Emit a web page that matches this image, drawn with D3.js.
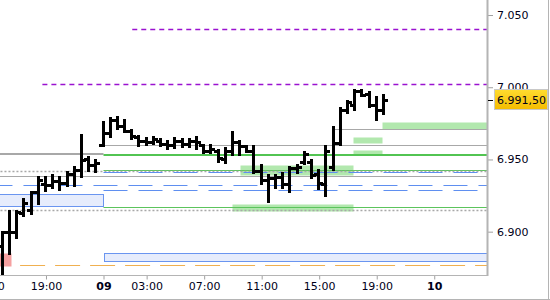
<html lang="en">
<head>
<meta charset="utf-8">
<title>Bar chart with levels</title>
<script src="https://cdn.jsdelivr.net/npm/d3@7"></script>
<style>
  body { margin: 0; background: #fff; }
  svg text { font-family: "DejaVu Sans", Verdana, sans-serif; font-size: 11px; fill: #000018; }
</style>
</head>
<body>
<script>
// bar times, hours counted per session (day 08 ends 23:00, day 09 starts at 0)
var barDays = [8,8,8,8,8,8,8,8,8,8,8,8,8,8,
  9,9,9,9,9,9,9,9,9,9,9,9,9,9,9,9,9,9,9,9,9,9,9,9,9,9,9,9,9,9,9,9,9,9,9,9,9,9,9,9];
var barTimes = ["16:00","16:30","17:00","17:30","18:00","18:30","19:00","19:30","20:00","20:30","21:00","21:30","22:00","22:30",
  "00:00","00:30","01:00","01:30","02:00","02:30","03:00","03:30","04:00","04:30","05:00","05:30","06:00","06:30",
  "07:00","07:30","08:00","08:30","09:00","09:30","10:00","10:30","11:00","11:30","12:00","12:30","13:00","13:30",
  "14:00","14:30","15:00","15:30","16:00","16:30","17:00","17:30","18:00","18:30","19:00","19:30"];
var opens  = [6890,6899.5,6900,6913,6915,6927.5,6933,6932,6935,6934,6940,6943,6950,6946,
  6960,6968,6977,6973.5,6970,6965.5,6963,6962,6963,6961,6960,6963,6961,6963,
  6960,6956,6956,6950,6956,6962,6959,6956,6942,6936,6937,6938,6933,6944,
  6948,6948,6940,6933,6945,6961.5,6984,6988,6997.5,6995,6988,6984.5];
var highs  = [6900,6914,6914,6922.5,6927.5,6938,6938,6939,6938,6941.5,6945,6967,6952,6949.5,
  6976,6978.5,6979.5,6977,6970.5,6966,6965,6965.5,6964,6963,6965,6964.5,6964.5,6965.5,
  6960,6960,6956.5,6958,6969,6962.5,6959,6959,6946,6939,6939,6940.5,6945,6946,
  6955.5,6949.5,6942.5,6959,6972.5,6985.5,6990.5,6998,6998,6997,6993.5,6994.5];
var lows   = [6871,6884.5,6895.5,6910.5,6912.5,6919.5,6928,6930,6929,6931.5,6932,6938,6942.5,6941.5,
  6959.5,6965.5,6971,6969,6964,6959,6960,6960.5,6959,6957.5,6958,6959,6959,6957.5,
  6954.5,6954.5,6948.5,6947.5,6953,6953,6954.5,6940.5,6932.5,6920.5,6930,6930,6927.5,6940.5,
  6947.5,6937,6929,6924.5,6942.5,6960,6982,6984,6993.5,6986.5,6977.5,6981];
var closes = [6899.5,6900,6913.5,6920,6927.5,6936,6932,6935,6934,6940,6943,6949.5,6946,6947.5,
  6968,6977,6973.5,6970,6966,6963,6962,6964,6961,6960,6963,6961,6963,6962,
  6956,6957,6951,6956,6962,6959,6956,6942,6936,6937,6938,6933,6944,6945,
  6954,6939,6934,6956,6961.5,6984.5,6989.5,6997.5,6994.5,6988,6984.5,6991.5];
var lastPrice = 6991.5;

// horizontal levels (price, from / to in session hours)
var levelPrices = [7040, 7002, 6971, 6960, 6953.5, 6953, 6943, 6942, 6941, 6938.5, 6932, 6929, 6917, 6915, 6877];
var levelFrom   = [2, -4.25, 15.9, 0, -8, 0, 0, -8, 0, -8, -8, 0, 0, -8, -5.8];
var levelTo     = [28, 28, 28, 28, 0, 28, 28, 28, 28, 28, 28, 28, 28, 28, 28];
var levelKinds  = ["purple","purple","gray","gray","grayThick","greenThick","green","grayDot","blue","gray","blue","blue","green","grayDot","orange"];

// zones (top, bottom, from, to)
var zoneTops    = [6976, 6965.5, 6956.5, 6946, 6919.5, 6926, 6885.5, 6885];
var zoneBottoms = [6971, 6961.5, 6953, 6939, 6914.5, 6917.5, 6880, 6876];
var zoneFrom    = [19.35, 17.35, 17.35, 9.49, 8.94, -8, 0, -8];
var zoneTo      = [28, 19.35, 19.35, 17.35, 17.35, 0, 28, -6.4];
var zoneKinds   = ["green","green","green","green","green","blue","blue","red"];

var xTickHours  = [-8, -4, 0, 3, 7, 11, 15, 19, 23];
var xTickLabels = ["15:00","19:00","09","03:00","07:00","11:00","15:00","19:00","10"];
var yTicks = [6900, 6950, 7000, 7050];

var lineStyles = {
  purple:     {stroke: "#9a12d0", width: 1.3, dash: "5,4"},
  gray:       {stroke: "#a8a8a8", width: 1.2, dash: null},
  grayThick:  {stroke: "#a8a8a8", width: 2.2, dash: null},
  grayDot:    {stroke: "#a8a8a8", width: 1.5, dash: "2,2"},
  green:      {stroke: "#5cc45c", width: 1.2, dash: null},
  greenThick: {stroke: "#52c452", width: 2.2, dash: null},
  blue:       {stroke: "#5f8ff0", width: 1.2, dash: "24,11"},
  orange:     {stroke: "#f0b050", width: 1.2, dash: "25,10"}
};
var zoneStyles = {
  green: {fill: "#b2e8ae", stroke: "none"},
  blue:  {fill: "#e6ecfc", stroke: "#6a95f0"},
  red:   {fill: "#f5a0a0", stroke: "none"}
};

var w = 550, h = 300;
var plotW = 487, plotH = 275;

var locale = d3.formatLocale({decimal: ",", thousands: ".", grouping: [3], currency: ["", ""]});
var fmtAxis = locale.format(",.0f");
var fmtLast = locale.format(",.2f");

function sessionHour(i) {
  var p = barTimes[i].split(":");
  return (barDays[i] - 9) * 23 + (+p[0]) + (+p[1]) / 60;
}

var xScale = d3.scaleLinear().domain([0, 15]).range([103.5, 319.2]);
var yScale = d3.scaleLinear().domain([6870, 7060.4]).range([plotH, 0]);

var svg = d3.select("body").append("svg")
  .attr("width", w)
  .attr("height", h);

svg.append("defs").append("clipPath").attr("id", "plot")
  .append("rect").attr("x", 0).attr("y", 0).attr("width", plotW).attr("height", plotH);

var plot = svg.append("g").attr("clip-path", "url(#plot)");

// zones
zoneTops.forEach(function(t, i) {
  var st = zoneStyles[zoneKinds[i]];
  var x0 = xScale(zoneFrom[i]), x1 = xScale(zoneTo[i]);
  plot.append("rect")
    .attr("x", Math.round(x0) + 0.5)
    .attr("y", Math.round(yScale(t)) + 0.5)
    .attr("width", Math.round(x1 - x0))
    .attr("height", Math.round(yScale(zoneBottoms[i]) - yScale(t)))
    .attr("fill", st.fill)
    .attr("stroke", st.stroke)
    .attr("stroke-width", 1);
});

// level lines
levelPrices.forEach(function(p, i) {
  var st = lineStyles[levelKinds[i]];
  var y = Math.round(yScale(p)) + (st.width > 2 ? 0 : 0.5);
  plot.append("line")
    .attr("x1", xScale(levelFrom[i])).attr("x2", xScale(levelTo[i]))
    .attr("y1", y).attr("y2", y)
    .attr("stroke", st.stroke)
    .attr("stroke-width", st.width)
    .attr("stroke-dasharray", st.dash);
});

// OHLC bars
var bars = plot.selectAll("g.bar")
  .data(d3.range(barTimes.length))
  .enter().append("g").attr("class", "bar");

bars.append("rect")
  .attr("x", function(i) { return Math.round(xScale(sessionHour(i))) - 2; })
  .attr("y", function(i) { return Math.round(yScale(highs[i])) - 1; })
  .attr("width", 3)
  .attr("height", function(i) { return Math.max(3, Math.round(yScale(lows[i]) - yScale(highs[i])) + 2); })
  .attr("fill", "#000");
bars.append("rect")
  .attr("x", function(i) { return Math.round(xScale(sessionHour(i))) - 5; })
  .attr("y", function(i) { return Math.round(yScale(opens[i])) - 1; })
  .attr("width", 3).attr("height", 3)
  .attr("fill", "#000");
bars.append("rect")
  .attr("x", function(i) { return Math.round(xScale(sessionHour(i))) + 1; })
  .attr("y", function(i) { return Math.round(yScale(closes[i])) - 1; })
  .attr("width", 3).attr("height", 3)
  .attr("fill", "#000");

// right axis
var yAxis = d3.axisRight(yScale).tickValues(yTicks).tickFormat(fmtAxis).tickSize(5).tickPadding(4);
var gY = svg.append("g")
  .attr("transform", "translate(" + (plotW + 1) + ",0)")
  .call(yAxis);
gY.select(".domain").remove();
gY.selectAll("line").attr("stroke", "#a0a0a0");
gY.selectAll("text").attr("font-family", null).attr("font-size", null);
svg.append("line")
  .attr("x1", plotW + 0.5).attr("x2", plotW + 0.5).attr("y1", 0).attr("y2", plotH + 1)
  .attr("stroke", "#b4b4b4").attr("stroke-width", 2);

// bottom axis
var xAxis = d3.axisBottom(xScale).tickValues(xTickHours)
  .tickFormat(function(d, i) { return xTickLabels[i]; })
  .tickSize(4).tickPadding(3);
var gX = svg.append("g")
  .attr("transform", "translate(0," + (plotH + 0.5) + ")")
  .call(xAxis);
gX.select(".domain").remove();
gX.selectAll("line").attr("stroke", "#a0a0a0");
gX.selectAll("text")
  .attr("font-family", null).attr("font-size", null)
  .attr("font-weight", function(d, i) { return xTickLabels[i].length == 2 ? "bold" : null; });
svg.append("line")
  .attr("x1", 0).attr("x2", plotW).attr("y1", plotH + 0.5).attr("y2", plotH + 0.5)
  .attr("stroke", "#b4b4b4").attr("stroke-width", 1);

// outer border right / bottom
svg.append("line").attr("x1", 548.5).attr("x2", 548.5).attr("y1", 0).attr("y2", h)
  .attr("stroke", "#b4b4b4").attr("stroke-width", 1);
svg.append("line").attr("x1", 0).attr("x2", w).attr("y1", 299.5).attr("y2", 299.5)
  .attr("stroke", "#b4b4b4").attr("stroke-width", 1);

// last price marker
var yLast = Math.round(yScale(lastPrice));
svg.append("line")
  .attr("x1", plotW + 1).attr("x2", plotW + 6).attr("y1", yLast + 0.5).attr("y2", yLast + 0.5)
  .attr("stroke", "#000");
var grad = svg.select("defs").append("linearGradient").attr("id", "gold")
  .attr("x1", 0).attr("y1", 0).attr("x2", 0).attr("y2", 1);
grad.append("stop").attr("offset", "0%").attr("stop-color", "#ffdc30");
grad.append("stop").attr("offset", "100%").attr("stop-color", "#f5bc00");
svg.append("rect")
  .attr("x", 494.5).attr("y", yLast - 10.5)
  .attr("width", 53).attr("height", 20)
  .attr("fill", "url(#gold)")
  .attr("stroke", "#c8c8c8");
svg.append("text")
  .attr("x", 497).attr("y", yLast + 4)
  .text(fmtLast(lastPrice));
</script>
</body>
</html>
